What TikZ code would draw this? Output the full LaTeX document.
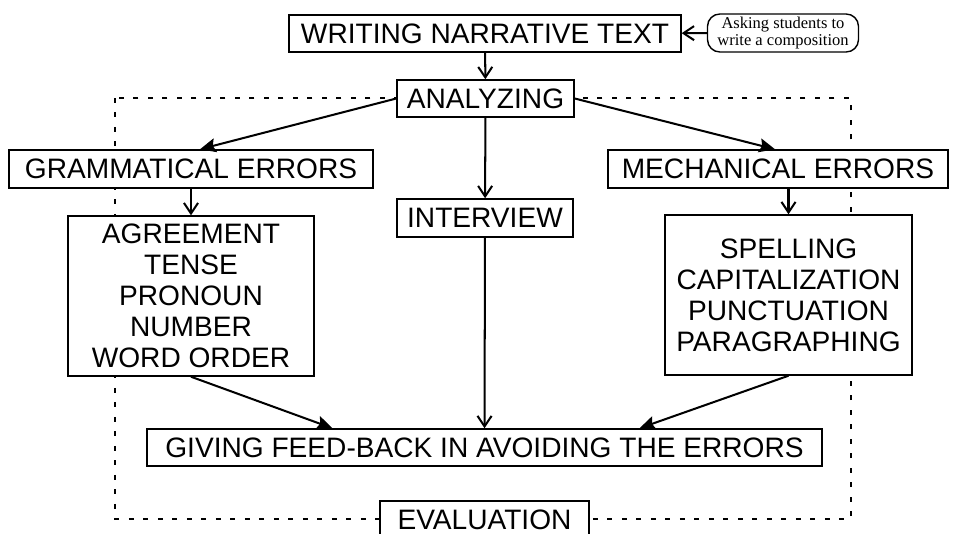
\documentclass[tikz,border=0pt]{standalone}
\usepackage{fontspec}
\setmainfont{Liberation Sans}
\newfontfamily\notefont{Liberation Serif}
\usetikzlibrary{arrows.meta,calc}

\tikzset{
  box/.style={draw, line width=0.85pt, fill=white, inner sep=0pt, align=center,
    font=\fontsize{16}{17.6}\selectfont},
  note/.style={draw, line width=0.8pt, rounded corners=7pt, fill=white, inner sep=0pt,
    align=center, font=\notefont\fontsize{9.4}{9.6}\selectfont},
  arr/.style={line width=1.15pt, -{Straight Barb[length=6pt,width=8pt]}},
  farr/.style={line width=1.15pt, -{Stealth[length=9pt,width=8pt,inset=1.5pt]}},
  evalframe/.style={line width=1.6pt, dash pattern=on 0.1cm off 0.19cm},
}

\begin{document}
\begin{tikzpicture}[x=0.02cm, y=-0.02cm]
        \useasboundingbox (0,0) rectangle (961,534);

        % evaluation loop
        \draw[evalframe] (115,98) rectangle (851,519);

        \node[box, minimum width=7.84cm, minimum height=0.74cm] (wnt) at (485,33.5) {WRITING NARRATIVE TEXT};
        \node[note, minimum width=3.02cm, minimum height=0.76cm] (ask) at (783,33) {Asking students to\\write a composition};
        \node[box, minimum width=3.54cm, minimum height=0.74cm] (ana) at (485.5,98.5) {ANALYZING};
        \node[box, minimum width=7.28cm, minimum height=0.76cm] (gram) at (191,169) {GRAMMATICAL ERRORS};
        \node[box, minimum width=6.80cm, minimum height=0.76cm] (mech) at (778,169) {MECHANICAL ERRORS};
        \node[box, minimum width=3.52cm, minimum height=0.76cm] (inter) at (485,218) {INTERVIEW};
        \node[box, minimum width=4.92cm, minimum height=3.20cm] (grlist) at (191,296)
            {AGREEMENT\\TENSE\\PRONOUN\\NUMBER\\WORD ORDER};
        \node[box, minimum width=4.94cm, minimum height=3.20cm] (melist) at (788.5,295)
            {SPELLING\\CAPITALIZATION\\PUNCTUATION\\PARAGRAPHING};
        \node[box, minimum width=13.50cm, minimum height=0.74cm] (feed) at (484.5,447.5) {GIVING FEED-BACK IN AVOIDING THE ERRORS};
        \node[box, minimum width=4.18cm, minimum height=0.76cm] (eval) at (484.5,520) {EVALUATION};

        \draw[arr] (ask) -- (wnt);
        \draw[arr] (wnt) -- (ana);
        \draw[farr] (ana.west) -- ($(gram.north)+(9,0)$);
        \draw[farr] (ana.east) -- ($(mech.north)+(-3,0)$);
        \draw[arr] (ana) -- (inter);
        \draw[arr] (gram) -- (grlist);
        \draw[arr] (mech.south -| melist.north) -- (melist.north);
        \draw[arr] (inter) -- (feed);
        \draw[farr] (grlist.south) -- ($(feed.north)+(-152,0)$);
        \draw[farr] (melist.south) -- ($(feed.north)+(155,0)$);

    \end{tikzpicture}
\end{document}
